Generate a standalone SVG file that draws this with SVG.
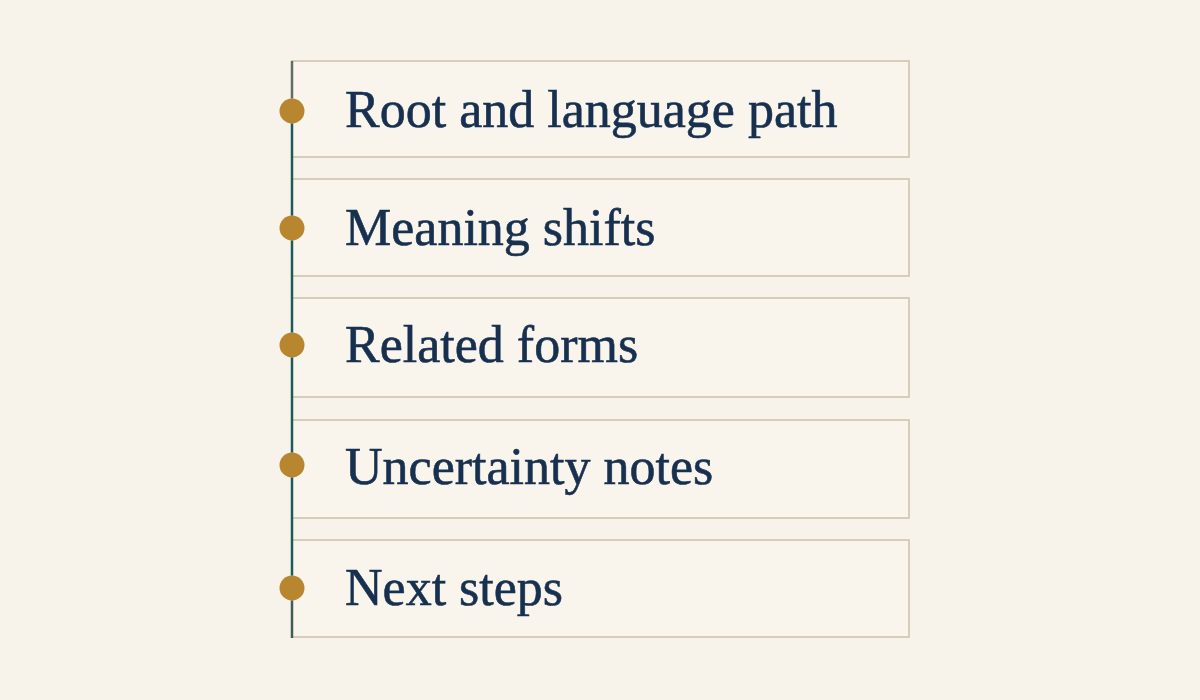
<svg xmlns="http://www.w3.org/2000/svg" width="1200" height="700" viewBox="0 0 1200 700">
<style>
.box{fill:#f9f5ec;stroke:#d8cdb8;stroke-width:2}
.lbl{font-family:"Liberation Serif","DejaVu Serif",serif;font-size:52px;fill:#17304f;stroke:#17304f;stroke-width:0.6}
.dot{fill:#b7862f}
.seg{stroke:#1d5a5c;stroke-width:2.5}
</style>
<rect width="1200" height="700" fill="#f7f3ea"/>
<g id="n1"><rect class="box" x="292" y="61" width="617" height="96"/><circle class="dot" cx="292" cy="111" r="12.5"/><text class="lbl" x="345" y="127">Root and language path</text></g>
<g id="n2"><rect class="box" x="292" y="179" width="617" height="97"/><circle class="dot" cx="292" cy="228" r="12.5"/><text class="lbl" x="345" y="245">Meaning shifts</text></g>
<g id="n3"><rect class="box" x="292" y="298" width="617" height="99"/><circle class="dot" cx="292" cy="345" r="12.5"/><text class="lbl" x="345" y="362">Related forms</text></g>
<g id="n4"><rect class="box" x="292" y="420" width="617" height="98"/><circle class="dot" cx="292" cy="465" r="12.5"/><text class="lbl" x="345" y="484">Uncertainty notes</text></g>
<g id="n5"><rect class="box" x="292" y="540" width="617" height="97"/><circle class="dot" cx="292" cy="588" r="12.5"/><text class="lbl" x="345" y="605">Next steps</text></g>
<g id="connectors">
<line x1="292" y1="61" x2="292" y2="98.5" stroke="#5f6d62" stroke-width="2.5"/>
<line class="seg" x1="292" y1="123.5" x2="292" y2="215.5"/>
<line class="seg" x1="292" y1="240.5" x2="292" y2="332.5"/>
<line class="seg" x1="292" y1="357.5" x2="292" y2="452.5"/>
<line class="seg" x1="292" y1="477.5" x2="292" y2="575.5"/>
<line x1="292" y1="600.5" x2="292" y2="638" stroke="#3f5e55" stroke-width="2.5"/>
</g>
</svg>
